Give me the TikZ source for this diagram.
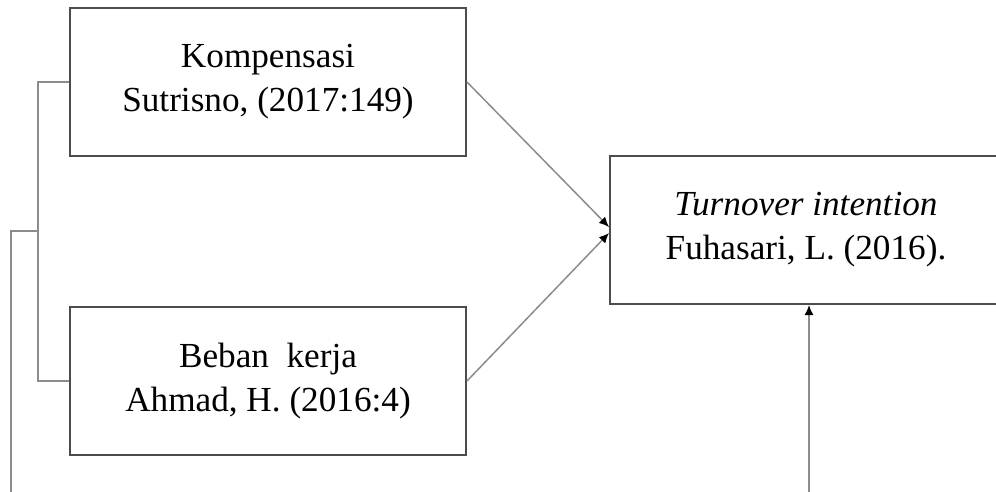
\documentclass[tikz,border=0pt]{standalone}
\usepackage{fontspec}
\setmainfont{Liberation Serif}
\usetikzlibrary{arrows.meta,positioning}
\tikzset{
  every picture/.style = {
    x=0.5pt, y=-0.5pt,
    font=\fontsize{17.6}{22}\selectfont
  },
  var/.style={
    draw=black!70,
    line width=1pt,
    minimum width=198pt,
    minimum height=74pt,
    inner sep=0pt,
    align=center
  },
  link/.style={
    draw=black!45,
    line width=0.75pt
  },
  pijl/.style={
    link,
    -{Latex[length=5pt,width=4.5pt,black]}
  }
}
\begin{document}
\begin{tikzpicture}
        \useasboundingbox (0,0) rectangle (996,492);
        \node[var] (komp) at (268,82) {Kompensasi\\Sutrisno, (2017:149)};
        \node[var] (beban) at (268,381) {Beban\ \ kerja\\Ahmad, H. (2016:4)};
        \node[var, minimum width=196pt] (turnover) at (806,230) {\textit{Turnover intention}\\Fuhasari, L. (2016).};
        \coordinate (join) at (38,231);
        \coordinate (kiri) at (11,492);
        \coordinate (bawah) at (809,492);
        \draw[link] (komp.west) -| (join) |- (beban.west);
        \draw[link] (join) -- ++(-27,0) |- (kiri);
        \draw[pijl] (komp.east) -- ([yshift=1.5pt]turnover.west);
        \draw[pijl] (beban.east) -- ([yshift=-1.5pt]turnover.west);
        \draw[pijl] (bawah) -- (bawah |- turnover.south);
    \end{tikzpicture}
\end{document}
